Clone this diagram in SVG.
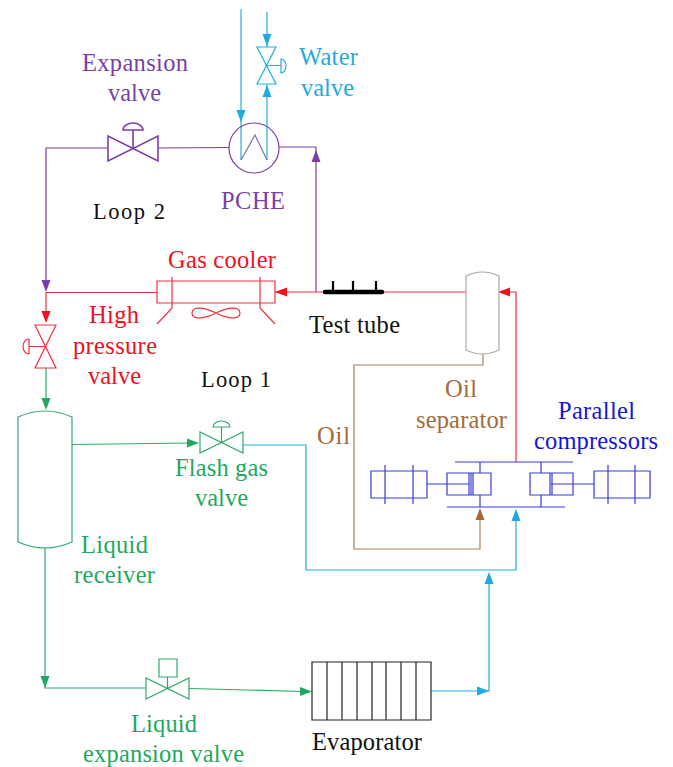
<svg xmlns="http://www.w3.org/2000/svg" width="673" height="767" viewBox="0 0 673 767">
<style>
text{font-family:"Liberation Serif","Times New Roman",serif;font-size:24.500px;text-anchor:start}
.l{fill:none;stroke-width:1.200;stroke-linejoin:miter}
.pu{stroke:#7a3fa8}.cy{stroke:#22aee0}.re{stroke:#f03040}.gr{stroke:#2bab6b}.br{stroke:#a9825f}.bl{stroke:#3a3ad8}.gy{stroke:#aaaaaa}.bk{stroke:#222222}
.tp{fill:#7a3fa8}.tc{fill:#1fa9e0}.tr{fill:#f01020}.tg{fill:#1fa860}.tb{fill:#a5693a}.tl{fill:#1515d5}.tk{fill:#111111}
</style>
<defs>
<polygon id="ar" points="0,0 -4.500,-12 4.500,-12"/>
</defs>
<rect width="673" height="767" fill="#ffffff"/>
<g id="connectors">
<path class="l pu" d="M108 148H46V281"/>
<path class="l pu" d="M158 148L229 147.500"/>
<path class="l pu" d="M279 147H316V292"/>
<path class="l cy" d="M241 9V160"/>
<path class="l cy" d="M267 12V47M267 85V160"/>
<path class="l re" d="M157 292.500H46V314"/>
<path class="l re" d="M323 292H276"/>
<path class="l re" d="M384 292H466"/>
<path class="l re" d="M516 462V292H500"/>
<path class="l gr" d="M46 368V400"/>
<path class="l gr" d="M72 444.500L190 443"/>
<path class="l gr" d="M45 548V688H146"/>
<path class="l gr" d="M189 688.500L303 691.500"/>
<path class="l cy" d="M243 445H306V570H516V512"/>
<path class="l cy" d="M431 691H489V574"/>
<path class="l br" d="M483 354V365H354V549H480V510"/>
<use href="#ar" class="tp" transform="translate(316 150) rotate(180)"/>
<use href="#ar" class="tp" transform="translate(46 292)"/>
<use href="#ar" class="tc" transform="translate(241 122)"/>
<use href="#ar" class="tc" transform="translate(267 46)"/>
<use href="#ar" class="tc" transform="translate(267 85) rotate(180)"/>
<use href="#ar" class="tr" transform="translate(275 292) rotate(90)"/>
<use href="#ar" class="tr" transform="translate(46 323)"/>
<use href="#ar" class="tr" transform="translate(498 292) rotate(90)"/>
<use href="#ar" class="tg" transform="translate(46 410)"/>
<use href="#ar" class="tg" transform="translate(199 443) rotate(-90)"/>
<use href="#ar" class="tg" transform="translate(45 688)"/>
<use href="#ar" class="tg" transform="translate(312 691.500) rotate(-90)"/>
<use href="#ar" class="tc" transform="translate(489 691) rotate(-90)"/>
<use href="#ar" class="tc" transform="translate(489 572) rotate(180)"/>
<use href="#ar" class="tc" transform="translate(516 509) rotate(180)"/>
<use href="#ar" class="tb" transform="translate(480 508) rotate(180)"/>
</g>
<g id="expansion-valve">
<path class="l pu" d="M108 136V161L158 136V161ZM133 148.500V130" stroke-width="1.600" style="stroke-width:1.600"/>
<path class="l pu" d="M123 130A10 7 0 0 1 143 130Z" style="stroke-width:1.600"/>
<text class="tp" x="82" y="71" textLength="106">Expansion</text>
<text class="tp" x="108" y="101" textLength="53">valve</text>
</g>
<g id="pche">
<circle class="l pu" cx="254" cy="148" r="25"/>
<path class="l cy" d="M241 160L255 135L267 160" style="stroke:#7a6fb0"/>
<text class="tp" x="221" y="209" textLength="64">PCHE</text>
</g>
<g id="water-valve">
<path class="l cy" d="M257 47H276L257 84H276ZM266.500 65.500H281M281 59A5 7 0 0 1 281 73Z"/>
<text class="tc" x="299" y="65" textLength="59">Water</text>
<text class="tc" x="301" y="96" textLength="53">valve</text>
</g>
<g id="gas-cooler">
<path class="l re" d="M157 281H275V303H157ZM172 277V308L157 324M260 277V308L275 324"/>
<path class="l re" d="M216 313C206 308 192 305 192 313C192 321 206 318 216 313C226 308 240 305 240 313C240 321 226 318 216 313Z"/>
<text class="tr" x="168" y="268" textLength="108">Gas cooler</text>
</g>
<g id="high-pressure-valve">
<path class="l re" d="M35 325H56L35 368H56ZM46 346.500H29M29 339A6 7.500 0 0 0 29 354Z"/>
<text class="tr" x="89" y="323" textLength="50">High</text>
<text class="tr" x="73" y="354" textLength="84">pressure</text>
<text class="tr" x="88" y="384" textLength="53">valve</text>
</g>
<g id="liquid-receiver">
<path class="l gr" d="M18 417Q45 405 72 417V542Q45 554 18 542Z"/>
<text class="tg" x="81" y="553" textLength="67">Liquid</text>
<text class="tg" x="74" y="583" textLength="81">receiver</text>
</g>
<g id="flash-gas-valve">
<path class="l gr" d="M200 432V453L243 432V453ZM221.500 442.500V427M213 427A8.500 6 0 0 1 230 427Z"/>
<text class="tg" x="175" y="476" textLength="93">Flash gas</text>
<text class="tg" x="195" y="506" textLength="53">valve</text>
</g>
<g id="liquid-expansion-valve">
<path class="l gr" d="M146 678V699L189 678V699ZM167.500 688.500V677M159 659H177V677H159Z"/>
<text class="tg" x="131" y="732" textLength="66">Liquid</text>
<text class="tg" x="83" y="762" textLength="161">expansion valve</text>
</g>
<g id="evaporator">
<path class="l bk" d="M312 662H431V720H312ZM327 662V720M342 662V720M357 662V720M372 662V720M386 662V720M401 662V720M416 662V720"/>
<text class="tk" x="312" y="750" textLength="110">Evaporator</text>
</g>
<g id="test-tube">
<path d="M325 292H382" fill="none" stroke="#000000" stroke-width="4.500" stroke-linecap="round"/>
<path d="M333 292V281M353 292V281M376 292V281" fill="none" stroke="#000000" stroke-width="2.200"/>
<text class="tk" x="309" y="333" textLength="91">Test tube</text>
</g>
<g id="oil-separator">
<path class="l gy" d="M466 276Q482.500 268 499 276V350Q482.500 358 466 350Z"/>
<text class="tb" x="445" y="397" textLength="32">Oil</text>
<text class="tb" x="416" y="428" textLength="91">separator</text>
</g>
<g id="oil-label">
<text class="tb" x="317" y="444" textLength="33">Oil</text>
</g>
<g id="parallel-compressors">
<path class="l bl" d="M455 462H573M447 507H565"/>
<path class="l bl" d="M371 471H427V498H371ZM385 465V504M413 465V504M427 484H447M447 473H491V495H447ZM447 484H469M469 473V495M471 473V495M473 473V495M480 462V473M480 495V507"/>
<path class="l bl" d="M530 473H573V495H530ZM551 484H573M550 473V495M552 473V495M541 462V473M541 495V507M573 484H594M594 471H650V498H594ZM608 465V504M635 465V504"/>
<text class="tl" x="558" y="419" textLength="77">Parallel</text>
<text class="tl" x="534" y="449" textLength="124">compressors</text>
</g>
<g id="loops">
<text class="tk" x="93" y="219" textLength="72" style="font-size:22.500px">Loop 2</text>
<text class="tk" x="201" y="387" textLength="70" style="font-size:22.500px">Loop 1</text>
</g>
</svg>
